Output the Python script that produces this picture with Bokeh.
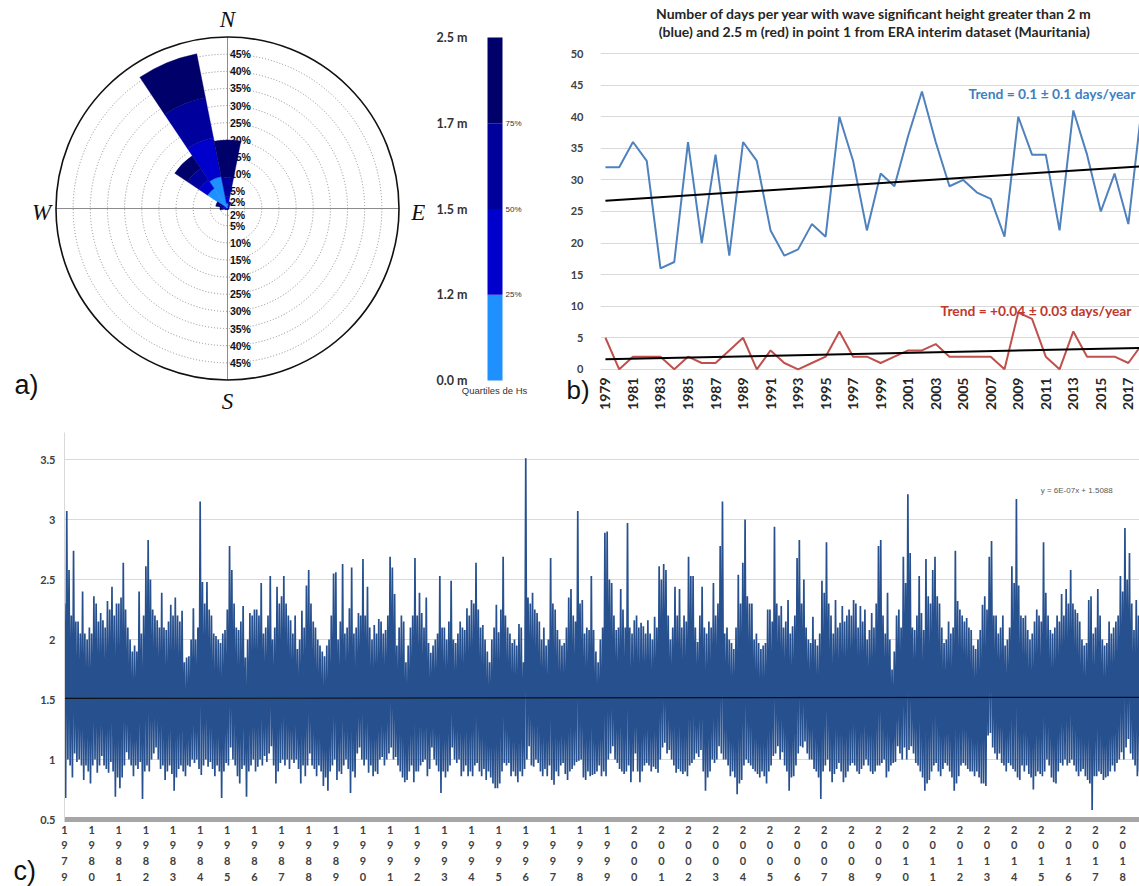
import numpy as np
from bokeh.plotting import figure
from bokeh.layouts import row, column
from bokeh.models import (Range1d, FixedTicker, Label, NumeralTickFormatter,
                          CustomJSTickFormatter, ColumnDataSource, Title)
from bokeh.core.properties import value
from bokeh.embed import file_html
from bokeh.resources import INLINE

# ------------------------------------------------------------------ data
# a) wave rose: frequency (%) per direction sector and Hs quartile band
rose_dirs = [0, 22.5, 45, 67.5, 90, 112.5, 135, 157.5, 180, 202.5, 225, 247.5,
             270, 292.5, 315, 337.5]
rose_q1 = [1.5, 0.5, 0.2, 0.1, 0.1, 0.1, 0.1, 0.1, 0.1, 0.1, 0.1, 0.2, 0.5, 0.6, 7.0, 9.5]
rose_q2 = [2.0, 0.5, 0.2, 0.1, 0.1, 0.1, 0.1, 0.1, 0.1, 0.1, 0.1, 0.2, 0.5, 0.8, 3.0, 11.5]
rose_q3 = [5.5, 0.5, 0.2, 0.1, 0.1, 0.1, 0.1, 0.1, 0.1, 0.1, 0.1, 0.2, 0.5, 0.8, 4.0, 12.0]
rose_q4 = [11.0, 0.5, 0.2, 0.1, 0.0, 0.0, 0.0, 0.0, 0.0, 0.0, 0.1, 0.2, 0.7, 1.3, 4.5, 13.0]
ring_levels = [2, 5, 10, 15, 20, 25, 30, 35, 40, 45]
outer_ring = 50
compass_text = ["N", "E", "S", "W"]
compass_deg = [0, 90, 180, 270]
band_colors = ["#1E90FF", "#0000CD", "#00009C", "#00006B"]
cb_labels = ["0.0 m", "1.2 m", "1.5 m", "1.7 m", "2.5 m"]
cb_pct = ["25%", "50%", "75%"]

# b) days per year with Hs > 2 m and > 2.5 m
years_b = list(range(1979, 2019))
days_gt2 = [32, 32, 36, 33, 16, 17, 36, 20, 34, 18, 36, 33, 22, 18, 19, 23, 21, 40, 33, 22,
            31, 29, 37, 44, 36, 29, 30, 28, 27, 21, 40, 34, 34, 22, 41, 34, 25, 31, 23, 42]
days_gt25 = [5, 0, 2, 2, 2, 0, 2, 1, 1, 3, 5, 0, 3, 1, 0, 1, 2, 6, 2, 2,
             1, 2, 3, 3, 4, 2, 2, 2, 2, 0, 9, 8, 2, 0, 6, 2, 2, 2, 1, 4]
trend_x = [1979, 2018.2]
trend_gt2 = [26.7, 32.2]
trend_gt25 = [1.6, 3.4]
year_ticks_b = list(range(1979, 2018, 2))
y_ticks_b = list(range(0, 51, 5))
title_b = ["Number of days per year with wave significant height greater than 2 m",
           "(blue) and 2.5 m (red) in point 1 from ERA interim dataset (Mauritania)"]

# c) Hs series: monthly maximum / minimum (1979-01 ... 2018-09)
hs_max = [
    2.30, 3.07, 2.58, 2.20, 2.74, 2.15, 2.15, 2.05, 2.40, 2.05, 2.00, 2.10,  # 1979
    2.05, 2.36, 2.30, 2.15, 2.22, 2.16, 2.10, 2.32, 2.25, 2.44, 2.20, 2.30,  # 1980
    2.30, 2.35, 2.64, 2.25, 2.10, 2.00, 1.90, 1.95, 1.90, 2.40, 2.05, 2.20,  # 1981
    2.61, 2.83, 2.50, 2.25, 2.20, 2.16, 2.10, 2.39, 2.10, 2.08, 2.15, 2.29,  # 1982
    2.20, 2.35, 2.20, 2.15, 2.24, 1.81, 1.85, 1.86, 2.00, 2.26, 2.00, 2.10,  # 1983
    3.15, 2.48, 2.30, 2.48, 2.25, 2.20, 2.05, 2.03, 2.00, 1.97, 2.05, 2.08,  # 1984
    2.25, 2.78, 2.58, 2.30, 2.10, 2.08, 2.15, 2.28, 1.85, 2.00, 2.22, 2.20,  # 1985
    2.25, 2.25, 2.20, 2.47, 2.05, 2.10, 2.20, 2.53, 2.00, 2.10, 2.44, 2.30,  # 1986
    2.36, 2.53, 2.30, 2.20, 2.16, 2.05, 2.20, 1.92, 2.00, 2.24, 2.10, 2.45,  # 1987
    2.58, 2.30, 2.15, 2.10, 2.00, 1.95, 1.90, 1.86, 1.95, 2.00, 2.20, 2.55,  # 1988
    2.56, 2.00, 2.15, 2.63, 2.05, 2.10, 2.26, 2.60, 2.05, 2.10, 2.22, 2.20,  # 1989
    2.67, 2.20, 2.44, 2.10, 2.00, 2.12, 2.05, 2.17, 2.15, 2.05, 2.08, 2.20,  # 1990
    2.69, 2.60, 2.38, 1.95, 2.10, 2.20, 2.15, 1.81, 1.95, 2.10, 2.20, 2.68,  # 1991
    2.20, 2.39, 2.22, 2.10, 2.35, 1.97, 1.89, 1.95, 2.00, 2.05, 2.53, 2.10,  # 1992
    2.10, 2.00, 2.15, 2.49, 2.00, 1.97, 2.05, 2.15, 2.10, 2.08, 2.26, 2.20,  # 1993
    2.33, 2.30, 2.64, 2.25, 2.10, 2.12, 2.00, 1.90, 1.81, 2.00, 2.10, 2.29,  # 1994
    2.06, 2.25, 2.69, 2.20, 2.10, 2.05, 1.97, 2.00, 1.95, 2.13, 2.10, 1.81,  # 1995
    3.51, 2.35, 2.30, 2.39, 2.25, 2.22, 2.15, 2.00, 2.10, 1.95, 2.00, 2.68,  # 1996
    2.30, 2.25, 2.08, 2.00, 1.95, 1.97, 2.10, 2.35, 2.42, 2.20, 2.15, 3.07,  # 1997
    2.30, 2.33, 2.05, 2.10, 2.08, 2.53, 2.08, 1.90, 1.81, 2.00, 2.10, 2.89,  # 1998
    2.90, 2.50, 2.47, 2.20, 2.08, 2.10, 2.42, 2.25, 2.10, 2.97, 2.10, 2.05,  # 1999
    2.16, 2.20, 2.10, 2.14, 2.11, 2.05, 2.16, 2.05, 2.00, 2.19, 2.10, 2.61,  # 2000
    2.50, 2.63, 2.58, 2.20, 2.00, 2.10, 2.44, 2.20, 2.42, 2.10, 2.20, 2.15,  # 2001
    2.69, 2.53, 2.53, 2.10, 1.98, 2.20, 2.44, 2.10, 2.05, 2.15, 2.10, 2.47,  # 2002
    2.20, 2.30, 2.78, 3.15, 2.05, 2.10, 2.00, 1.97, 1.92, 2.10, 2.54, 2.30,  # 2003
    2.64, 3.00, 2.36, 2.30, 2.30, 2.00, 2.05, 1.97, 1.92, 1.95, 1.97, 2.25,  # 2004
    2.25, 2.15, 2.94, 2.30, 2.20, 2.28, 2.10, 2.15, 2.33, 2.05, 2.11, 2.20,  # 2005
    2.68, 2.83, 2.30, 2.50, 2.10, 2.00, 1.97, 2.19, 2.00, 1.95, 2.05, 2.49,  # 2006
    2.39, 2.81, 2.30, 2.20, 2.05, 2.33, 2.10, 2.14, 2.28, 2.15, 2.20, 2.25,  # 2007
    2.20, 2.33, 2.30, 2.10, 2.28, 2.15, 2.25, 2.00, 2.08, 2.22, 2.10, 2.30,  # 2008
    2.78, 2.83, 2.20, 2.05, 2.39, 2.00, 1.75, 1.90, 2.20, 2.25, 2.10, 2.69,  # 2009
    2.47, 3.21, 2.72, 2.10, 2.08, 2.20, 2.53, 2.22, 2.08, 2.67, 2.36, 2.30,  # 2010
    2.58, 2.69, 2.36, 2.30, 2.10, 1.97, 2.00, 2.15, 2.05, 2.10, 2.74, 2.32,  # 2011
    2.25, 2.20, 2.15, 2.18, 2.10, 2.08, 1.95, 1.92, 2.00, 2.08, 2.29, 2.36,  # 2012
    2.25, 2.69, 2.82, 2.20, 2.20, 2.05, 2.10, 2.20, 1.95, 2.00, 2.10, 2.61,  # 2013
    2.47, 3.17, 2.45, 2.20, 2.18, 2.20, 2.08, 2.00, 2.05, 2.15, 2.25, 2.20,  # 2014
    2.15, 2.81, 2.39, 2.20, 2.08, 2.05, 2.10, 2.20, 2.15, 2.38, 2.20, 2.42,  # 2015
    2.30, 2.58, 2.30, 2.25, 2.22, 2.15, 2.00, 1.95, 1.97, 2.33, 2.36, 2.05,  # 2016
    2.10, 2.42, 2.20, 2.00, 1.95, 1.97, 2.15, 2.05, 2.10, 2.15, 2.20, 2.53,  # 2017
    2.40, 2.93, 2.50, 2.72, 2.30, 2.08, 2.33, 2.20, 2.10,                    # 2018
]
hs_min = [
    0.68, 1.00, 0.95, 0.85, 1.05, 0.98, 1.00, 0.95, 0.83, 0.95, 0.90, 0.80,  # 1979
    0.95, 1.00, 0.89, 0.95, 1.03, 0.95, 0.92, 0.89, 0.98, 0.90, 0.69, 0.85,  # 1980
    0.76, 0.85, 0.95, 1.06, 1.00, 0.95, 0.86, 0.95, 0.92, 0.98, 0.67, 0.90,  # 1981
    0.95, 0.90, 1.00, 1.05, 1.10, 1.00, 0.92, 0.95, 0.83, 0.90, 0.95, 0.88,  # 1982
    0.74, 0.85, 0.92, 0.95, 0.90, 0.86, 0.95, 0.94, 1.00, 0.97, 1.00, 0.92,  # 1983
    0.87, 0.95, 1.00, 0.94, 0.98, 0.92, 0.86, 0.95, 0.90, 0.68, 0.90, 0.97,  # 1984
    0.95, 1.10, 1.00, 0.95, 0.86, 0.80, 0.92, 0.95, 0.69, 0.90, 0.95, 1.00,  # 1985
    0.90, 0.94, 1.00, 0.95, 1.03, 0.98, 1.05, 1.11, 0.95, 0.80, 0.90, 0.97,  # 1986
    1.00, 0.95, 1.00, 0.92, 1.00, 0.97, 1.00, 0.92, 0.80, 0.95, 0.86, 0.95,  # 1987
    1.05, 0.95, 0.92, 0.86, 0.95, 0.90, 0.78, 0.85, 0.74, 0.90, 0.95, 1.00,  # 1988
    0.83, 0.90, 0.88, 0.95, 1.00, 0.92, 0.72, 0.90, 0.85, 1.05, 1.10, 1.00,  # 1989
    0.95, 1.00, 0.89, 0.95, 0.86, 0.90, 0.88, 1.00, 1.02, 0.95, 1.00, 1.05,  # 1990
    1.10, 1.00, 1.02, 0.95, 0.90, 0.85, 0.81, 0.83, 0.90, 0.95, 0.81, 0.90,  # 1991
    0.90, 0.95, 0.98, 1.00, 0.86, 0.92, 1.10, 1.00, 0.95, 0.90, 0.72, 0.90,  # 1992
    0.85, 0.90, 0.95, 1.10, 1.00, 0.97, 1.00, 0.86, 0.90, 0.95, 0.86, 0.90,  # 1993
    0.86, 0.95, 0.97, 0.90, 0.86, 0.92, 0.83, 0.90, 0.85, 0.80, 0.76, 0.76,  # 1994
    0.80, 0.90, 0.97, 0.95, 0.97, 0.86, 0.90, 0.86, 0.81, 0.90, 0.86, 0.92,  # 1995
    1.00, 1.11, 0.95, 0.94, 1.00, 0.97, 0.90, 0.86, 0.92, 0.86, 0.95, 0.83,  # 1996
    0.79, 0.90, 0.86, 0.95, 0.97, 0.88, 0.83, 0.90, 0.92, 0.95, 0.98, 0.99,  # 1997
    1.00, 0.85, 0.83, 0.90, 0.86, 0.87, 0.88, 0.90, 0.95, 0.86, 0.90, 0.86,  # 1998
    1.00, 1.05, 1.11, 1.00, 0.97, 0.92, 0.90, 0.88, 0.90, 0.95, 0.81, 0.90,  # 1999
    1.05, 0.90, 0.81, 0.90, 0.95, 0.97, 0.95, 0.90, 0.94, 0.92, 0.89, 1.00,  # 2000
    1.10, 1.14, 1.05, 1.08, 1.00, 0.95, 0.89, 0.92, 0.90, 0.88, 0.90, 0.86,  # 2001
    0.95, 0.97, 1.00, 1.05, 1.02, 1.08, 0.90, 0.74, 0.85, 0.90, 1.00, 0.97,  # 2002
    1.00, 1.11, 1.05, 1.00, 1.00, 0.95, 0.86, 0.90, 0.85, 0.71, 0.80, 0.83,  # 2003
    0.95, 1.00, 0.97, 0.95, 0.92, 0.90, 0.88, 0.85, 0.90, 0.86, 0.80, 0.90,  # 2004
    0.95, 1.03, 1.05, 1.11, 1.00, 1.06, 0.95, 0.90, 0.74, 0.85, 0.86, 0.95,  # 2005
    1.05, 1.11, 1.10, 1.15, 1.05, 1.00, 1.00, 0.92, 0.90, 0.85, 0.67, 0.90,  # 2006
    0.95, 1.00, 0.90, 0.81, 0.88, 0.92, 0.97, 0.90, 0.81, 0.85, 0.90, 0.95,  # 2007
    0.97, 0.95, 0.90, 0.88, 0.92, 0.95, 1.00, 0.95, 0.90, 0.88, 0.90, 0.95,  # 2008
    0.95, 0.97, 1.00, 0.85, 0.90, 0.95, 0.97, 0.98, 1.11, 1.05, 1.00, 1.10,  # 2009
    1.00, 1.08, 1.11, 1.05, 0.97, 0.95, 0.90, 0.85, 0.74, 0.80, 0.83, 0.90,  # 2010
    0.95, 0.97, 0.90, 0.86, 0.92, 0.97, 0.95, 0.90, 0.85, 0.74, 0.80, 0.86,  # 2011
    0.95, 0.97, 0.95, 0.92, 0.90, 0.90, 0.86, 0.90, 0.85, 0.80, 0.80, 0.78,  # 2012
    1.20, 1.22, 1.10, 1.05, 1.00, 1.05, 0.97, 0.95, 0.90, 0.97, 0.95, 0.92,  # 2013
    0.90, 0.85, 0.83, 0.95, 0.90, 0.95, 0.88, 0.85, 0.75, 0.86, 0.90, 0.88,  # 2014
    0.86, 0.90, 1.00, 0.95, 0.85, 0.81, 0.80, 0.90, 0.97, 0.95, 1.00, 0.95,  # 2015
    0.97, 1.00, 0.95, 0.90, 0.86, 0.90, 0.92, 0.86, 0.83, 0.80, 0.58, 0.86,  # 2016
    0.86, 0.90, 0.88, 0.83, 0.85, 0.86, 0.90, 0.95, 0.90, 0.97, 1.00, 1.06,  # 2017
    1.00, 1.10, 1.17, 1.05, 1.00, 0.95, 0.86, 0.90, 0.92,                    # 2018
]
trend_c_x = [1979.0, 2018.62]
trend_c_y = [1.509, 1.518]
year_ticks_c = list(range(1979, 2019))
y_ticks_c = [0.5, 1, 1.5, 2, 2.5, 3, 3.5]

# ------------------------------------------------------------------ styles
SANS = "Lato"
GRID = "#D9D9D9"

def bare(p):
    p.grid.visible = False
    p.outline_line_color = None
    p.background_fill_color = None
    p.border_fill_color = "white"

def no_ticks(ax):
    ax.major_tick_line_color = None
    ax.minor_tick_line_color = None
    ax.major_tick_out = 0
    ax.major_tick_in = 0
    ax.minor_tick_out = 0
    ax.minor_tick_in = 0

# ------------------------------------------------------------------ a) rose
PX = 3.43            # pixels per percent
CX, CY = 227, 208    # rose centre inside the panel
WA, HA = 425, 420
pa = figure(width=WA, height=HA, output_backend="svg", toolbar_location=None,
            x_range=Range1d(-CX / PX, (WA - CX) / PX),
            y_range=Range1d(-(HA - CY) / PX, CY / PX),
            x_axis_location=None, y_axis_location=None, min_border=0, frame_align=False)
bare(pa)

n = len(ring_levels)
pa.circle(x=[0] * n, y=[0] * n, radius=ring_levels, fill_color=None,
          line_color="#8C8C8C", line_dash="1 2", line_width=1)
pa.segment(x0=[-outer_ring, 0], y0=[0, -outer_ring], x1=[outer_ring, 0], y1=[0, outer_ring],
           line_color="#8C8C8C", line_width=1)
pa.circle(x=[0], y=[0], radius=[outer_ring], fill_color=None, line_color="#111111", line_width=1.6)

for sgn in (1, -1):
    pa.text(x=[0.7] * n, y=[sgn * r for r in ring_levels], text=[f"{r}%" for r in ring_levels],
            text_font=value("Liberation Sans"), text_font_size="10.5px", text_font_style="bold",
            text_baseline="middle", text_align="left", text_color="#111111")

half = 11.25
cum = np.zeros(len(rose_dirs))
for band, col in zip([rose_q1, rose_q2, rose_q3, rose_q4], band_colors):
    b = np.array(band)
    src = ColumnDataSource(dict(
        inner=cum.copy(), outer=cum + b,
        start=np.radians(90 - np.array(rose_dirs) - half),
        end=np.radians(90 - np.array(rose_dirs) + half)))
    pa.annular_wedge(x=0, y=0, inner_radius="inner", outer_radius="outer",
                     start_angle="start", end_angle="end", source=src,
                     fill_color=col, line_color=col, line_width=0.4)
    cum = cum + b

cr = [55.2, 55.6, 56.2, 54.2]
pa.text(x=[r * np.sin(np.radians(d)) for r, d in zip(cr, compass_deg)],
        y=[r * np.cos(np.radians(d)) - (1.3 if d in (90, 270) else 0) for r, d in zip(cr, compass_deg)],
        text=compass_text, text_font=value("Liberation Serif"), text_font_size="23px",
        text_font_style="italic", text_align="center", text_baseline="middle",
        text_color="#111111")
pa.add_layout(Label(x=(14 - CX) / PX, y=(CY - 384) / PX, text="a)", text_font="Liberation Sans",
                    text_font_size="27px", text_align="left", text_baseline="middle",
                    text_color="#111111"))

# ------------------------------------------------------------------ colour bar
WC = 140
BARPX = 15
UNIT = 85.75
pcb = figure(width=WC, height=HA, output_backend="svg", toolbar_location=None,
             x_range=Range1d(-62 / BARPX, (WC - 62) / BARPX),
             y_range=Range1d(-(HA - 380) / UNIT, 4 + 37 / UNIT),
             x_axis_location=None, y_axis_location=None, min_border=0, frame_align=False)
bare(pcb)
pcb.quad(left=0, right=1, bottom=[0, 1, 2, 3], top=[1, 2, 3, 4],
         fill_color=band_colors, line_color=None)
pcb.text(x=[0] * 5, y=[0, 1, 2, 3, 4], text=cb_labels, x_offset=-20,
         text_font=value(SANS), text_font_size="12.5px", text_font_style="bold",
         text_align="right", text_baseline="middle", text_color="#333333")
pcb.text(x=[1] * 3, y=[1, 2, 3], text=cb_pct, x_offset=3,
         text_font=value("Liberation Sans"), text_font_size="8px",
         text_align="left", text_baseline="middle", text_color="#333333")
pcb.add_layout(Label(x=0.47, y=-10 / UNIT, text="Quartiles de Hs",
                     text_font="Liberation Sans", text_font_size="9.5px",
                     text_align="center", text_baseline="middle", text_color="#333333"))

# ------------------------------------------------------------------ b) days per year
WBL = 29                      # strip holding the y axis of panel b and the letter "b)"
BPAD = 6                      # room for the first rotated year label
WB = 1139 - WA - WC - WBL
BB = 48
PYB = (369.0 - 53.0) / 50.0   # pixels per day
yr_b = Range1d(-0.5, 50.5 + 50 / PYB)   # frame reaches the top of the page (title inside)

pbl = figure(width=WBL, height=HA, output_backend="svg", toolbar_location=None,
             x_range=Range1d(0, 1), y_range=yr_b, x_axis_location=None,
             min_border_left=20, min_border_right=0, min_border_top=0, min_border_bottom=BB,
             frame_align=False)
bare(pbl)
pbl.yaxis.ticker = FixedTicker(ticks=y_ticks_b)
pbl.yaxis.axis_line_color = None
no_ticks(pbl.yaxis[0])
pbl.yaxis.major_label_text_font = SANS
pbl.yaxis.major_label_text_font_style = "bold"
pbl.yaxis.major_label_text_font_size = "11px"
pbl.yaxis.major_label_text_color = "#404040"
pbl.yaxis.major_label_standoff = 2
pbl.add_layout(Title(text="b)", align="left", offset=-19, standoff=0,
                     text_font="Liberation Sans", text_font_size="26px",
                     text_font_style="normal", text_color="#111111"), "below")

pb = figure(width=WB, height=HA, output_backend="svg", toolbar_location=None,
            x_range=Range1d(1978.64, 2017.81), y_range=yr_b, y_axis_location=None,
            min_border_left=BPAD, min_border_right=0, min_border_top=0, min_border_bottom=BB,
            frame_align=False)
pb.outline_line_color = None
pb.xgrid.grid_line_color = None
pb.ygrid.ticker = FixedTicker(ticks=y_ticks_b)
pb.ygrid.grid_line_color = GRID
pb.xaxis.ticker = FixedTicker(ticks=year_ticks_b)
pb.xaxis.major_label_orientation = np.pi / 2
pb.xaxis.axis_line_color = None
no_ticks(pb.xaxis[0])
pb.xaxis.major_label_text_font = SANS
pb.xaxis.major_label_text_font_style = "bold"
pb.xaxis.major_label_text_font_size = "14px"
pb.xaxis.major_label_text_color = "#262626"
pb.xaxis.major_label_standoff = 5

pb.line(years_b, days_gt2, line_color="#4F81BD", line_width=2)
pb.line(years_b, days_gt25, line_color="#C0504D", line_width=2)
pb.line(trend_x, trend_gt2, line_color="black", line_width=2)
pb.line(trend_x, trend_gt25, line_color="black", line_width=2)

XB0 = 1978.64
PXB = (WB - BPAD) / (2017.81 - 1978.64)
FRAME_B_LEFT = WA + WC + WBL + BPAD
def bxy(px, py):
    # page pixel -> data coordinates of panel b
    return XB0 + (px - FRAME_B_LEFT) / PXB, (369.0 - py) / PYB

tx, ty = bxy(968, 93)
pb.add_layout(Label(x=tx, y=ty, text="Trend = 0.1 \u00b1 0.1 days/year", text_font=SANS,
                    text_font_size="13.8px", text_font_style="bold", text_color="#3F7FC1",
                    text_baseline="middle", text_align="left"))
tx, ty = bxy(940, 310)
pb.add_layout(Label(x=tx, y=ty, text="Trend = +0.04 \u00b1 0.03 days/year", text_font=SANS,
                    text_font_size="13.8px", text_font_style="bold", text_color="#C0392B",
                    text_baseline="middle", text_align="left"))
for txt, py in zip(title_b, [13, 31]):
    tx, ty = bxy(874, py)
    pb.add_layout(Label(x=tx, y=ty, text=txt, text_font=SANS, text_font_size="14px",
                        text_font_style="bold", text_color="#262626",
                        text_align="center", text_baseline="middle"))

# ------------------------------------------------------------------ c) Hs series
HCc = 886 - HA
WCL = 37                      # strip holding the letter "c)"
pcl = figure(width=WCL, height=HCc, output_backend="svg", toolbar_location=None,
             x_range=Range1d(0, WCL), y_range=Range1d(0, HCc),
             x_axis_location=None, y_axis_location=None, min_border=0, frame_align=False)
bare(pcl)
pcl.add_layout(Label(x=13, y=16, text="c)", text_font="Liberation Sans", text_font_size="27px",
                     text_color="#111111", text_align="left", text_baseline="middle"))

WCc = 1139 - WCL
CL, CT, CB = 62 - WCL, 12, 67
y_top = 0.5 + (HCc - CT - CB) / 120.0
pc = figure(width=WCc, height=HCc, output_backend="svg", toolbar_location=None,
            x_range=Range1d(1979.0, 2018.62), y_range=Range1d(0.5, y_top),
            min_border_left=CL, min_border_right=0, min_border_top=CT, min_border_bottom=CB,
            frame_align=False)
pc.outline_line_color = None
pc.xgrid.grid_line_color = None
pc.ygrid.grid_line_color = GRID
pc.ygrid.grid_line_width = 1.2
pc.xaxis.ticker = FixedTicker(ticks=year_ticks_c)
pc.yaxis.ticker = FixedTicker(ticks=y_ticks_c)
pc.yaxis.formatter = NumeralTickFormatter(format="0.[0]")
pc.xaxis.formatter = CustomJSTickFormatter(
    code="return String(Math.round(tick)).split('').join('\\n');")
for ax in (pc.xaxis[0], pc.yaxis[0]):
    no_ticks(ax)
    ax.major_label_text_font = SANS
    ax.major_label_text_font_style = "bold"
    ax.major_label_text_color = "#404040"
pc.xaxis.axis_line_color = "#A6A6A6"
pc.xaxis.axis_line_width = 5
pc.xaxis.major_label_text_font_size = "11px"
pc.xaxis.major_label_text_line_height = 1.22
pc.xaxis.major_label_standoff = 3
pc.yaxis.axis_line_color = GRID
pc.yaxis.major_label_text_font_size = "11px"
pc.yaxis.major_label_standoff = 9

mx = np.array(hs_max)
mn = np.array(hs_min)
m = np.arange(len(mx))
xs = np.empty(2 * len(m))
ys = np.empty(2 * len(m))
xs[0::2] = 1979 + m / 12.0
xs[1::2] = 1979 + (m + 0.5) / 12.0
ys[0::2] = mx
ys[1::2] = mn
pc.line(xs, ys, line_color="#27508F", line_width=1.7)
pc.line(trend_c_x, trend_c_y, line_color="#111111", line_width=1.2)

PXC = (WCc - CL) / (2018.62 - 1979.0)
tx = 1979.0 + (1040 - 62) / PXC
ty = 0.5 + ((HA + HCc - CB) - 490) / 120.0
pc.add_layout(Label(x=tx, y=ty, text="y = 6E-07x + 1.5088", text_font="Liberation Sans",
                    text_font_size="8px", text_color="#595959", text_baseline="middle",
                    text_align="left"))

layout = column(row(pa, pcb, pbl, pb), row(pcl, pc))
open("out.html", "w").write(file_html(layout, INLINE))
